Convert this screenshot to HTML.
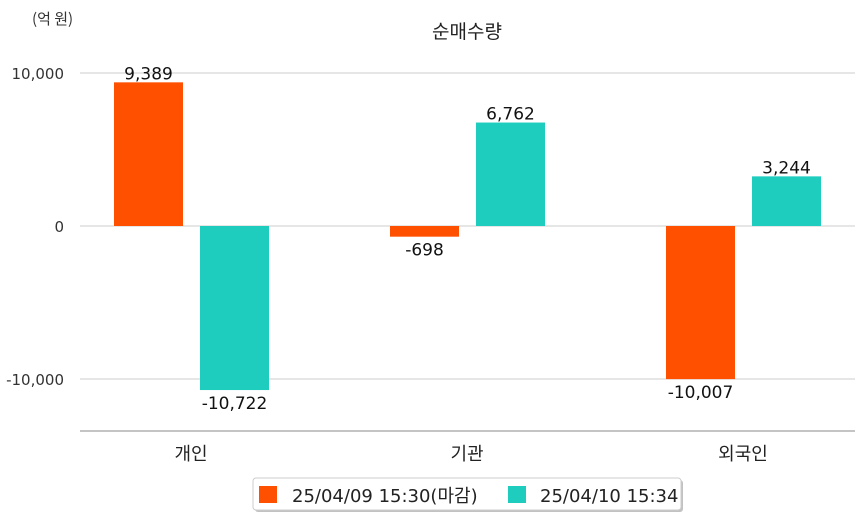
<!DOCTYPE html>
<html><head><meta charset="utf-8"><style>
body{margin:0;background:#fff;font-family:"DejaVu Sans","Noto Sans CJK KR",sans-serif;}
svg{display:block}
</style></head><body>
<svg id="c" width="863" height="520" xmlns="http://www.w3.org/2000/svg">
<text x="32" y="24" font-size="15" fill="#333" font-family="Noto Sans CJK KR, sans-serif">(억 원)</text>
<text x="467" y="38" font-size="19" fill="#222" text-anchor="middle" font-family="Noto Sans CJK KR, sans-serif">순매수량</text>
<g id="grid"></g><g id="bars"></g><g id="labels"></g>
<line x1="80" y1="431" x2="855" y2="431" stroke="#888" stroke-width="1"/>
<g>
<rect x="255" y="480" width="428" height="32" rx="3" fill="#999" opacity="0.6"/>
<rect x="253" y="478" width="428" height="32" rx="3" fill="#fff" stroke="#ccc"/>
<g><rect x="259" y="486" width="18" height="17" fill="#FF5000"/>
<text x="292" y="502" font-size="18" fill="#222" font-family="DejaVu Sans, Noto Sans CJK KR, sans-serif">25/04/09 15:30(마감)</text></g>
<g><rect x="508" y="486" width="18" height="17" fill="#1ECDBE"/>
<text x="540" y="502" font-size="18" fill="#222" font-family="DejaVu Sans, Noto Sans CJK KR, sans-serif">25/04/10 15:34</text></g>
</g>
</svg>
<script>
const categories=["개인","기관","외국인"];
const series0409=[9389,-698,-10007];
const series0410=[-10722,6762,3244];
const yTicks=[10000,0,-10000];
const tickLabels=["10,000","0","-10,000"];
const colors=["#FF5000","#1ECDBE"];
const NS="http://www.w3.org/2000/svg";
const y0=226, k=153/10000, left=80, right=855;
const y=v=>y0-v*k;
const cx=i=>191+276*i;
function mk(t,a,p){const e=document.createElementNS(NS,t);for(const n in a)e.setAttribute(n,a[n]);p.appendChild(e);return e;}
const grid=document.getElementById('grid'),bars=document.getElementById('bars'),labels=document.getElementById('labels');
const fam="DejaVu Sans, Noto Sans CJK KR, sans-serif";
yTicks.forEach((t,i)=>{
 const l=mk('line',{x1:left,x2:right,y1:y(t),y2:y(t),stroke:'#ccc'},grid);
 
 
 const tx=mk('text',{x:64,y:y(t)+6,'text-anchor':'end','font-size':15,fill:'#333','font-family':fam},grid);
 tx.textContent=tickLabels[i];
 
 
});
const fmt=v=>(v<0?"-":"")+Math.abs(v).toLocaleString('en-US');
[series0409,series0410].forEach((s,si)=>{
 s.forEach((v,i)=>{
  const x=si===0?cx(i)-77:cx(i)+9;
  const top=Math.min(y(v),y0),h=Math.abs(y(v)-y0);
  const r=mk('rect',{x:x,y:top,width:69,height:h,fill:colors[si]},bars);
  
  
  const ty=v>=0?y(v)-3:y(v)+19;
  const t=mk('text',{x:x+34.5,y:ty,'text-anchor':'middle','font-size':17,fill:'#111','font-family':fam},labels);
  t.textContent=fmt(v);
  
  
 });
 });
categories.forEach((c,i)=>{
 const t=mk('text',{x:cx(i),y:460,'text-anchor':'middle','font-size':18,fill:'#222','font-family':"Noto Sans CJK KR, sans-serif"},labels);
 t.textContent=c;
 
 
});
</script>
</body></html>
